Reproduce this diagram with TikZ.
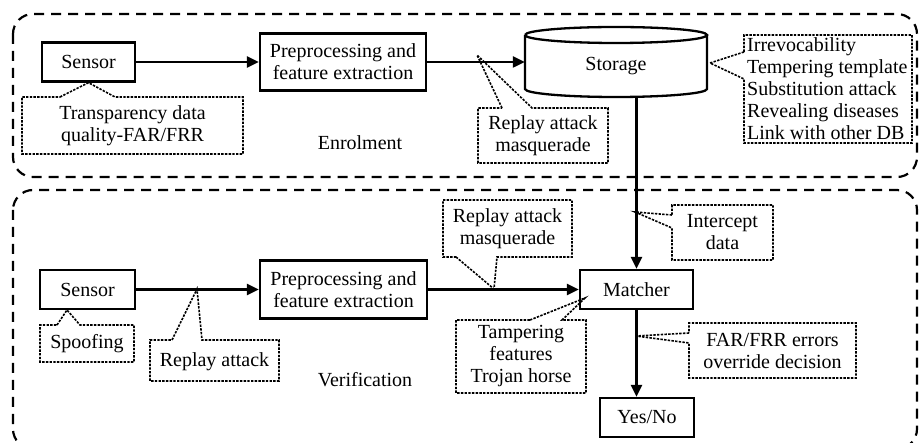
\documentclass[tikz,border=0pt]{standalone}
\usepackage{fontspec}
\setmainfont{Liberation Serif}
\usetikzlibrary{arrows.meta}
\begin{document}
\begin{tikzpicture}[x=1pt,y=-1pt,
  box/.style={draw, line width=2.3pt, inner sep=0pt, align=center},
  calltext/.style={inner sep=0pt, align=center},
  callout/.style={line width=1.6pt, dash pattern=on 2.4pt off 1.3pt},
  region/.style={line width=2.2pt, dash pattern=on 10pt off 7pt, rounded corners=20pt},
  conn/.style={line width=2.3pt, -{Triangle[length=12pt,width=11pt]}},
  font=\fontsize{20}{22}\selectfont]
\useasboundingbox (0,0) rectangle (921,443);

% regions
\draw[region] (13,14) rectangle (917,177);
\draw[region] (13,190) rectangle (917,449);

% enrolment nodes
\node[box, minimum width=93pt, minimum height=39pt] (s1) at (88.5,62) {Sensor};
\node[box, minimum width=166pt, minimum height=57pt] (p1) at (343,62) {Preprocessing and\\feature extraction};
\node[minimum width=182pt, minimum height=62pt, inner sep=0pt] (st) at (616,66) {Storage};
\draw[line width=2.3pt] (525,35) arc[start angle=180,end angle=-180,x radius=91pt,y radius=8pt];
\draw[line width=2.3pt] (525,35) -- (525,89) arc[start angle=180,end angle=360,x radius=91pt,y radius=8pt] -- (707,35);

\node (enl) at (360,143) {Enrolment};

% verification nodes
\node[box, minimum width=95pt, minimum height=39pt] (s2) at (87.5,289.5) {Sensor};
\node[box, minimum width=167pt, minimum height=58pt] (p2) at (343.5,289.5) {Preprocessing and\\feature extraction};
\node[box, minimum width=113pt, minimum height=39pt] (m) at (636.5,289.5) {Matcher};
\node[box, minimum width=94pt, minimum height=39pt] (yn) at (647,417.5) {Yes/No};

\node (vl) at (365,380) {Verification};

% connectors
\draw[conn] (s1.east) -- (p1.west);
\draw[conn] (p1.east) -- (p1.east -| st.west);
\draw[conn] (m.north |- st.south) -- (m.north);
\draw[conn] (s2.east) -- (p2.west);
\draw[conn] (p2.east) -- (m.west);
\draw[conn] (m.south) -- (m.south |- yn.north);

% callouts
\draw[callout] (60,97) -- (s1.south) -- (115,97) -- (243,97) -- (243,154) -- (22,154) -- (22,97) -- cycle;
\node[calltext] (c1) at (132.5,125.5) {Transparency data\\quality-FAR/FRR};

\draw[callout] (502,108) -- (477,55) -- (532,108) -- (608,108) -- (608,163) -- (478,163) -- (478,108) -- cycle;
\node[calltext] (c2) at (543,135.5) {Replay attack\\masquerade};

\draw[callout] (744,52) -- (710,63) -- (744,79) -- (744,143) -- (912,143) -- (912,35) -- (744,35) -- cycle;
\node[calltext, align=left, anchor=west] (c3) at (747,89) {Irrevocability\\Tempering template\\Substitution attack\\Revealing diseases\\Link with other DB};

\draw[callout] (672,215) -- (635,212) -- (672,228) -- (672,260) -- (773,260) -- (773,205) -- (672,205) -- cycle;
\node[calltext] (c4) at (722.5,232.5) {Intercept\\data};

\draw[callout] (456,257) -- (494,289) -- (497,257) -- (572,257) -- (572,200) -- (443,200) -- (443,257) -- cycle;
\node[calltext] (c5) at (507.5,228.5) {Replay attack\\masquerade};

\draw[callout] (57,325) -- (67,310) -- (80,325) -- (134,325) -- (134,362) -- (40,362) -- (40,325) -- cycle;
\node[calltext] (c6) at (87,343.5) {Spoofing};

\draw[callout] (172,340) -- (197,289) -- (202,340) -- (279,340) -- (279,381) -- (150,381) -- (150,340) -- cycle;
\node[calltext] (c7) at (214.5,362) {Replay attack};

\draw[callout] (530,320) -- (585,298) -- (562,320) -- (586,320) -- (586,393) -- (456,393) -- (456,320) -- cycle;
\node[calltext] (c8) at (521,356.5) {Tampering\\features\\Trojan horse};

\draw[callout] (689,333) -- (636,336) -- (689,343) -- (689,378) -- (856,378) -- (856,323) -- (689,323) -- cycle;
\node[calltext] (c9) at (772.5,350.5) {FAR/FRR errors\\override decision};
\end{tikzpicture}
\end{document}
